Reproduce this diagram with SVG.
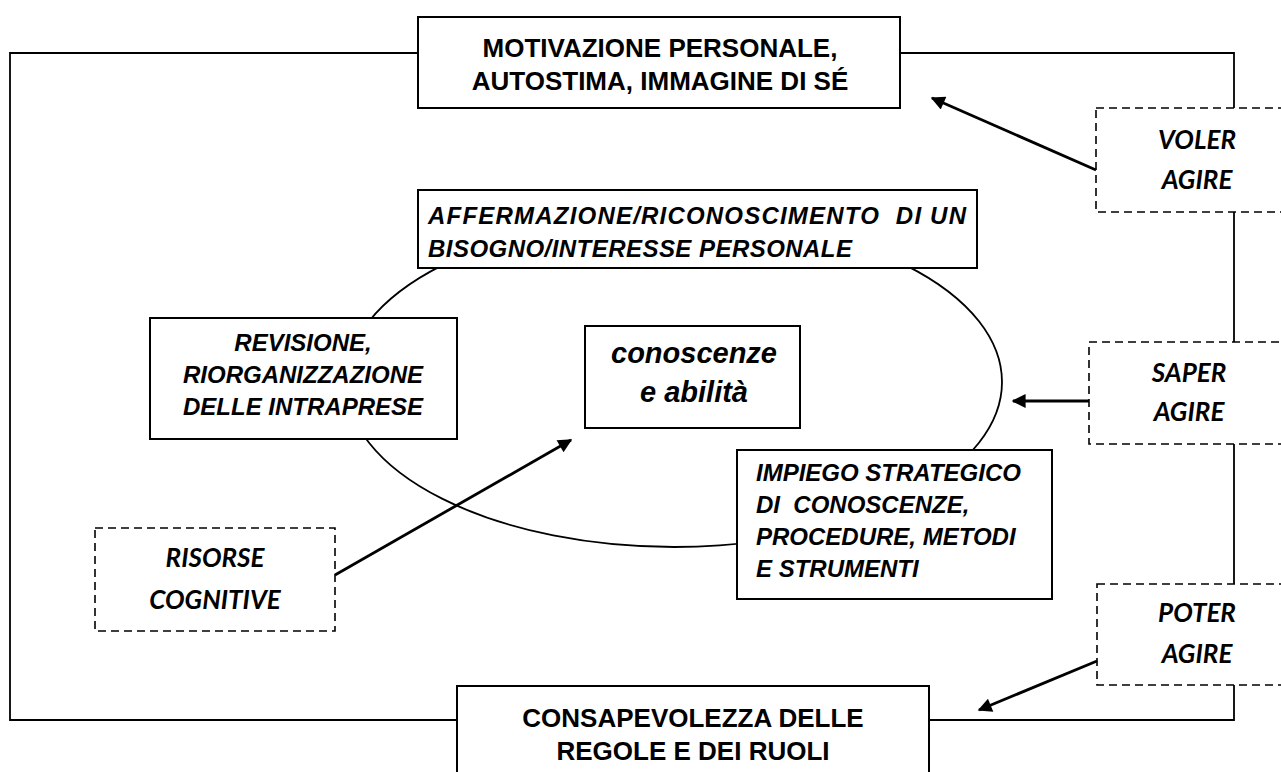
<svg xmlns="http://www.w3.org/2000/svg" width="1281" height="772" viewBox="0 0 1281 772">
<style>
.box{fill:#fff;stroke:#000;stroke-width:2}
.dash{fill:#fff;stroke:#000;stroke-width:1.6;stroke-dasharray:8 5}
.line{fill:none;stroke:#000;stroke-width:1.8}
.arr{fill:none;stroke:#000;stroke-width:2.8}
.b{font-family:"Liberation Sans",Arial,sans-serif;font-weight:bold;font-size:26px;fill:#000}
.bi{font-family:"Liberation Sans",Arial,sans-serif;font-weight:bold;font-style:italic;font-size:24px;fill:#000;white-space:pre}
.c{font-family:Lato,"Open Sans",sans-serif;font-weight:bold;font-style:italic;font-size:26px;fill:#000}
</style>
<defs>
<marker id="ah" viewBox="0 0 10 10" refX="9" refY="5" markerWidth="6" markerHeight="5" markerUnits="strokeWidth" orient="auto">
<path d="M0,0 L10,5 L0,10 z" fill="#000"/>
</marker>
</defs>
<rect width="1281" height="772" fill="#fff"/>
<g id="connectors">
<path class="line" d="M10,53 H1234 V720 H10 Z"/>
</g>
<g id="cycle">
<ellipse class="line" cx="674" cy="382" rx="328" ry="165"/>
</g>
<g id="motivazione">
<rect class="box" x="418" y="17" width="482" height="91"/>
<text class="b" x="660" y="57" text-anchor="middle">MOTIVAZIONE PERSONALE,</text>
<text class="b" x="660" y="90" text-anchor="middle">AUTOSTIMA, IMMAGINE DI SÉ</text>
</g>
<g id="affermazione">
<rect class="box" x="418" y="190" width="559" height="78"/>
<text class="bi" x="428" y="224" textLength="538" lengthAdjust="spacing" xml:space="preserve">AFFERMAZIONE/RICONOSCIMENTO  DI UN</text>
<text class="bi" x="428" y="257" textLength="424" lengthAdjust="spacing">BISOGNO/INTERESSE PERSONALE</text>
</g>
<g id="revisione">
<rect class="box" x="150" y="318" width="307" height="121"/>
<text class="bi" x="303" y="351" text-anchor="middle">REVISIONE,</text>
<text class="bi" x="303" y="383" text-anchor="middle">RIORGANIZZAZIONE</text>
<text class="bi" x="303" y="415" text-anchor="middle">DELLE INTRAPRESE</text>
</g>
<g id="conoscenze">
<rect class="box" x="585" y="326" width="215" height="102"/>
<text class="bi" x="694" y="363" text-anchor="middle" style="font-size:29px">conoscenze</text>
<text class="bi" x="694" y="402" text-anchor="middle" style="font-size:29px">e abilità</text>
</g>
<g id="impiego">
<rect class="box" x="737" y="450" width="315" height="149"/>
<text class="bi" x="756" y="481">IMPIEGO STRATEGICO</text>
<text class="bi" x="756" y="513" xml:space="preserve">DI  CONOSCENZE,</text>
<text class="bi" x="756" y="545">PROCEDURE, METODI</text>
<text class="bi" x="756" y="577">E STRUMENTI</text>
</g>
<g id="risorse">
<rect class="dash" x="95" y="528" width="240" height="103"/>
<text class="c" x="215" y="567" text-anchor="middle">RISORSE</text>
<text class="c" x="215" y="609" text-anchor="middle">COGNITIVE</text>
</g>
<g id="voler">
<rect class="dash" x="1096" y="108" width="200" height="104"/>
<text class="c" x="1197" y="149" text-anchor="middle">VOLER</text>
<text class="c" x="1197" y="189" text-anchor="middle">AGIRE</text>
</g>
<g id="saper">
<rect class="dash" x="1089" y="342" width="210" height="102"/>
<text class="c" x="1189" y="382" text-anchor="middle">SAPER</text>
<text class="c" x="1189" y="421" text-anchor="middle">AGIRE</text>
</g>
<g id="poter">
<rect class="dash" x="1097" y="584" width="200" height="101"/>
<text class="c" x="1197" y="622" text-anchor="middle">POTER</text>
<text class="c" x="1197" y="663" text-anchor="middle">AGIRE</text>
</g>
<g id="consapevolezza">
<rect class="box" x="457" y="686" width="472" height="100"/>
<text class="b" x="693" y="727" text-anchor="middle">CONSAPEVOLEZZA DELLE</text>
<text class="b" x="693" y="760" text-anchor="middle">REGOLE E DEI RUOLI</text>
</g>
<g id="arrows">
<line class="arr" x1="1096" y1="170" x2="932" y2="98" marker-end="url(#ah)"/>
<line class="arr" x1="1089" y1="401" x2="1013" y2="401" marker-end="url(#ah)"/>
<line class="arr" x1="1097" y1="661" x2="979" y2="710" marker-end="url(#ah)"/>
<line class="arr" x1="335" y1="575" x2="571" y2="440" marker-end="url(#ah)"/>
</g>
</svg>
